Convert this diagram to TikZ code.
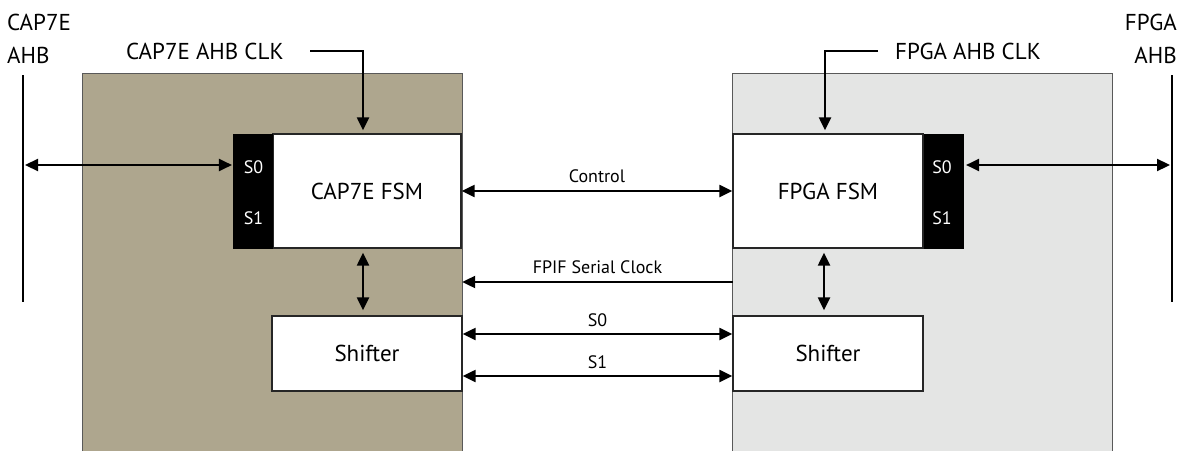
\documentclass[tikz,border=0pt]{standalone}
\usepackage{fontspec}
\setmainfont{PT Sans}
\usetikzlibrary{arrows.meta}
\definecolor{captan}{RGB}{174,166,142}
\definecolor{fpgagrey}{RGB}{228,229,228}
\tikzset{
	panel/.style={fill=#1,minimum width=379pt,minimum height=377pt,inner sep=0pt},
	fsmbox/.style={draw=black!85,line width=1.3pt,fill=white,minimum width=188pt,
		minimum height=114pt,inner sep=0pt,font=\fontsize{23}{26}\selectfont},
	strip/.style={fill=black,draw=black,minimum width=39pt,minimum height=114pt,inner sep=0pt},
	sig/.style={line width=2.2pt,-{Triangle[length=13pt,width=12pt]}},
	bisig/.style={line width=2.2pt,{Triangle[length=13pt,width=12pt]}-{Triangle[length=13pt,width=12pt]}},
	bus/.style={line width=2pt},
	lbl/.style={font=\fontsize{18}{20}\selectfont,inner sep=0pt},
	big/.style={font=\fontsize{23}{33}\selectfont,inner sep=0pt}
}

\begin{document}
\begin{tikzpicture}[x=1pt,y=-1pt]
	\useasboundingbox (0,0) rectangle (1190,450);
	% the two sides
	\node[panel=captan] (cappanel) at (272.5,262.5) {};
	\node[panel=fpgagrey] (fpgapanel) at (922.5,262.5) {};
	\draw[black!65,line width=1pt] (cappanel.south west) |- (cappanel.north east) -- (cappanel.south east);
	\draw[black!65,line width=1pt] (fpgapanel.south west) |- (fpgapanel.north east) -- (fpgapanel.south east);
	% state machines
	\node[fsmbox] (capfsm) at (367,191) {CAP7E FSM};
	\node[strip,anchor=east] (capstrip) at (capfsm.west) {};
	\node[lbl,text=white] (caps0) at (253.5,167) {S0};
	\node[lbl,text=white] (caps1) at (253.5,218) {S1};
	\node[fsmbox,minimum width=190pt] (fpgafsm) at (828,191) {FPGA FSM};
	\node[strip,anchor=west] (fpgastrip) at (fpgafsm.east) {};
	\node[lbl,text=white] (fpgas0) at (942,167) {S0};
	\node[lbl,text=white] (fpgas1) at (942,218) {S1};
	% shifters
	\node[fsmbox,minimum width=190pt,minimum height=75pt] (capshift) at (367,353.5) {Shifter};
	\node[fsmbox,minimum width=190pt,minimum height=75pt] (fpgashift) at (828,353.5) {Shifter};
	% outside labels
	\node[big,anchor=west,align=left] (capahb) at (7,39) {CAP7E\\AHB};
	\node[big,anchor=east,align=right] (fpgaahb) at (1177,39) {FPGA\\AHB};
	\node[big,anchor=west] (capclk) at (126,51) {CAP7E AHB CLK};
	\node[big,anchor=west] (fpgaclk) at (895,51) {FPGA AHB CLK};
	% buses
	\coordinate (capbustop) at (23,75);
	\coordinate (capbusbot) at (23,302);
	\coordinate (capbuss0) at (23,165);
	\coordinate (fpgabustop) at (1172,75);
	\coordinate (fpgabusbot) at (1172,302);
	\coordinate (fpgabuss0) at (1172,165);
	\draw[bus] (capbustop) -- (capbusbot);
	\draw[bus] (fpgabustop) -- (fpgabusbot);
	\draw[bisig,shorten <=2pt,shorten >=1pt] (capbuss0) -- (capstrip.west |- capbuss0);
	\draw[bisig,shorten <=3pt,shorten >=2pt] (fpgastrip.east |- fpgabuss0) -- (fpgabuss0);
	% clocks
	\coordinate (capclkin) at (310,51);
	\coordinate (fpgaclkin) at (878,51);
	\draw[sig,shorten >=3pt] (capclkin) -| ([xshift=-4pt]capfsm.north);
	\draw[sig,shorten >=3pt] (fpgaclkin) -| ([xshift=-3pt]fpgafsm.north);
	% links between the sides
	\draw[bisig] (capfsm.east) -- (fpgafsm.west) node[lbl,midway,above=7pt] {Control};
	\draw[sig] (fpgapanel.west |- 0,282) -- (cappanel.east |- 0,282)
		node[lbl,midway,above=7pt] {FPIF Serial Clock};
	\draw[bisig] (capshift.east |- 0,334) -- (fpgashift.west |- 0,334) node[lbl,midway,above=6pt] {S0};
	\draw[bisig] (capshift.east |- 0,376) -- (fpgashift.west |- 0,376) node[lbl,midway,above=6pt] {S1};
	\draw[bisig,shorten <=4pt,shorten >=5pt] ([xshift=-4pt]capfsm.south) -- ([xshift=-4pt]capshift.north);
	\draw[bisig,shorten <=4pt,shorten >=5pt] ([xshift=-4pt]fpgafsm.south) -- ([xshift=-4pt]fpgashift.north);
\end{tikzpicture}
\end{document}
